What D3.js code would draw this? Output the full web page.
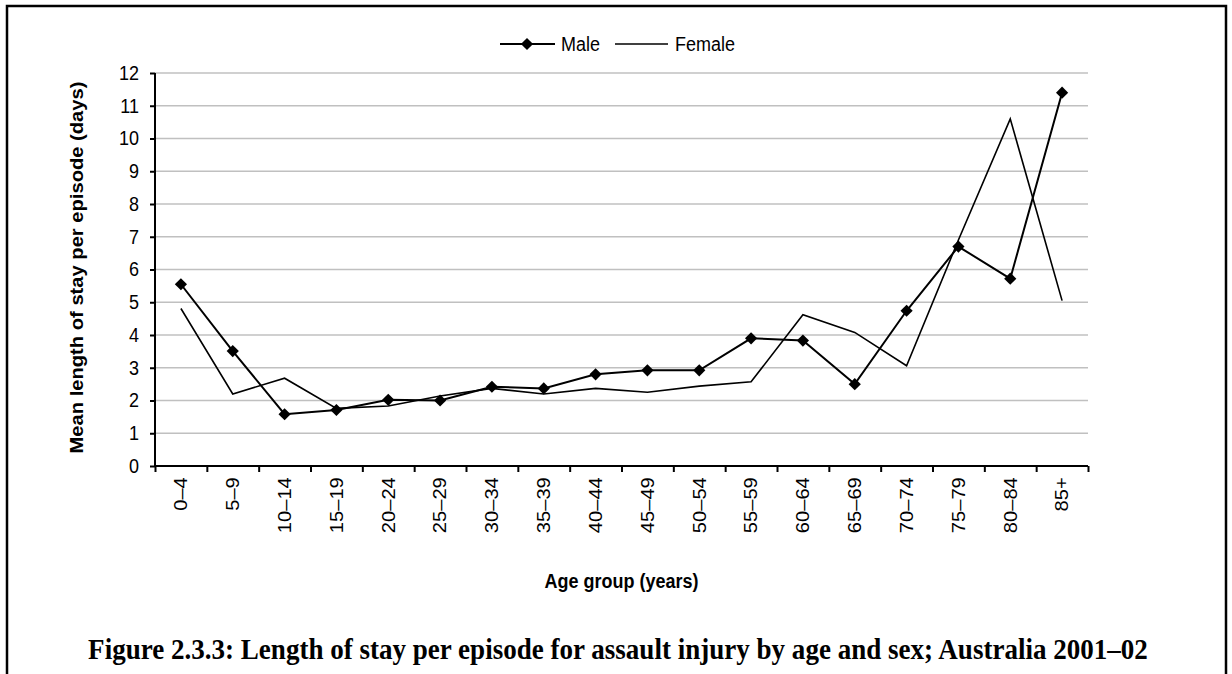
<!DOCTYPE html>
<html>
<head>
<meta charset="utf-8">
<script src="https://cdn.jsdelivr.net/npm/d3@7"></script>
<style>
  body { margin: 0; background: #fff; }
  text { font-family: "Liberation Sans", Arial, sans-serif; fill: #000; }
</style>
</head>
<body>
<script>
// age groups and mean length of stay (days)
var ageGroups = ["0–4", "5–9", "10–14", "15–19", "20–24", "25–29", "30–34", "35–39", "40–44",
                 "45–49", "50–54", "55–59", "60–64", "65–69", "70–74", "75–79", "80–84", "85+"];
var male   = [5.55, 3.51, 1.58, 1.71, 2.02, 2.0, 2.42, 2.37, 2.8, 2.92, 2.92, 3.9, 3.83, 2.5, 4.74, 6.7, 5.72, 11.4];
var female = [4.81, 2.2, 2.68, 1.76, 1.83, 2.14, 2.37, 2.2, 2.37, 2.25, 2.44, 2.57, 4.62, 4.08, 3.06, 6.9, 10.6, 5.05];
var yTicks = [0, 1, 2, 3, 4, 5, 6, 7, 8, 9, 10, 11, 12];

var W = 1232, H = 674;
// plot box (note: "top" is taken by window.top, so use other names)
var plotL = 155, plotR = 1088, plotT = 73, plotB = 466;
var fs = "18px";
var stretch = 1.12;   // the original figure is a bit taller than wide

var svg = d3.select("body").append("svg")
    .attr("width", W)
    .attr("height", H);

// frame round the figure (open at the bottom)
svg.append("path")
    .attr("d", "M7," + H + "V6H1226V" + H)
    .attr("fill", "none")
    .attr("stroke", "#000")
    .attr("stroke-width", 2.5);

var x = d3.scaleBand().domain(ageGroups).range([plotL, plotR]).padding(0);
var y = d3.scaleLinear().domain([0, 12]).range([plotB, plotT]);
var edges = d3.scaleLinear().domain([0, ageGroups.length]).range([plotL, plotR]);

// gridlines
svg.append("g")
  .selectAll("line")
  .data(yTicks.filter(function(d) { return d > 0; }))
  .enter().append("line")
    .attr("x1", plotL)
    .attr("x2", plotR)
    .attr("y1", function(d) { return y(d); })
    .attr("y2", function(d) { return y(d); })
    .attr("stroke", "#c0c0c0")
    .attr("stroke-width", 1.5);

// y axis
var yAxis = svg.append("g")
    .attr("transform", "translate(" + plotL + ",0)")
    .call(d3.axisLeft(y).tickValues(yTicks).tickSize(5).tickPadding(11).tickFormat(d3.format("d")));
yAxis.select(".domain").attr("stroke-width", 2).attr("d", "M0," + plotT + "V" + plotB);
yAxis.selectAll(".tick line").attr("stroke-width", 2);
yAxis.selectAll("text")
    .style("font-size", fs)
    .style("font-family", "Liberation Sans, Arial, sans-serif")
    .attr("transform", "scale(1," + stretch + ")");

// x axis: ticks between categories
var xEdge = svg.append("g")
    .attr("transform", "translate(0," + plotB + ")")
    .call(d3.axisBottom(edges).ticks(ageGroups.length).tickSize(6).tickFormat(""));
xEdge.select(".domain").attr("stroke-width", 2).attr("d", "M" + plotL + ",0H" + plotR);
xEdge.selectAll(".tick line").attr("stroke-width", 2);

// x labels, rotated
var xAxis = svg.append("g")
    .attr("transform", "translate(0," + plotB + ")")
    .call(d3.axisBottom(x).tickSize(0).tickPadding(0));
xAxis.select(".domain").remove();
xAxis.selectAll("text")
    .style("font-size", fs)
    .style("font-family", "Liberation Sans, Arial, sans-serif")
    .attr("text-anchor", "end")
    .attr("transform", "scale(1," + stretch + ") rotate(-90)")
    .attr("x", -10)
    .attr("y", 0)
    .attr("dy", "0.35em");

// female line
var line = d3.line()
    .x(function(d, i) { return x(ageGroups[i]) + x.bandwidth() / 2; })
    .y(function(d) { return y(d); });

svg.append("path")
    .datum(female)
    .attr("d", line)
    .attr("fill", "none")
    .attr("stroke", "#000")
    .attr("stroke-width", 1.6);

// male line with diamonds
svg.append("path")
    .datum(male)
    .attr("d", line)
    .attr("fill", "none")
    .attr("stroke", "#000")
    .attr("stroke-width", 2);

var diamond = d3.symbol().type(d3.symbolDiamond2).size(95);
svg.append("g")
  .selectAll("path")
  .data(male)
  .enter().append("path")
    .attr("d", diamond)
    .attr("transform", function(d, i) {
      return "translate(" + (x(ageGroups[i]) + x.bandwidth() / 2) + "," + y(d) + ")";
    })
    .attr("fill", "#000");

// horizontal text with the same vertical stretch
function label(px, py, str, bold, anchor) {
  return svg.append("text")
    .attr("transform", "translate(" + px + "," + py + ") scale(1," + stretch + ")")
    .attr("text-anchor", anchor || "start")
    .attr("dy", "0.35em")
    .style("font-size", fs)
    .style("font-weight", bold ? "bold" : "normal")
    .text(str);
}

// legend
var lg = svg.append("g");
lg.append("line").attr("x1", 500).attr("x2", 555).attr("y1", 44).attr("y2", 44)
    .attr("stroke", "#000").attr("stroke-width", 2);
lg.append("path").attr("d", diamond).attr("transform", "translate(527,44)");
label(561, 44, "Male");
lg.append("line").attr("x1", 615).attr("x2", 668).attr("y1", 44).attr("y2", 44)
    .attr("stroke", "#000").attr("stroke-width", 1.6);
label(675, 44, "Female");

// axis titles
svg.append("text")
    .attr("transform", "translate(77," + ((plotT + plotB) / 2 - 2) + ") scale(1," + stretch + ") rotate(-90)")
    .attr("text-anchor", "middle")
    .attr("dy", "0.35em")
    .style("font-size", fs)
    .style("font-weight", "bold")
    .text("Mean length of stay per episode (days)");

label((plotL + plotR) / 2, 581, "Age group (years)", true, "middle");

// caption, sized to span the same width as the original
var cap = svg.append("text")
    .attr("transform", "translate(618,659) scale(1,1.1)")
    .attr("text-anchor", "middle")
    .style("font-family", "Liberation Serif, serif")
    .style("font-weight", "bold")
    .style("font-size", "20px")
    .text("Figure 2.3.3: Length of stay per episode for assault injury by age and sex; Australia 2001–02");
var w = cap.node().getComputedTextLength();
cap.style("font-size", (20 * 1060 / w).toFixed(2) + "px");
</script>
</body>
</html>
